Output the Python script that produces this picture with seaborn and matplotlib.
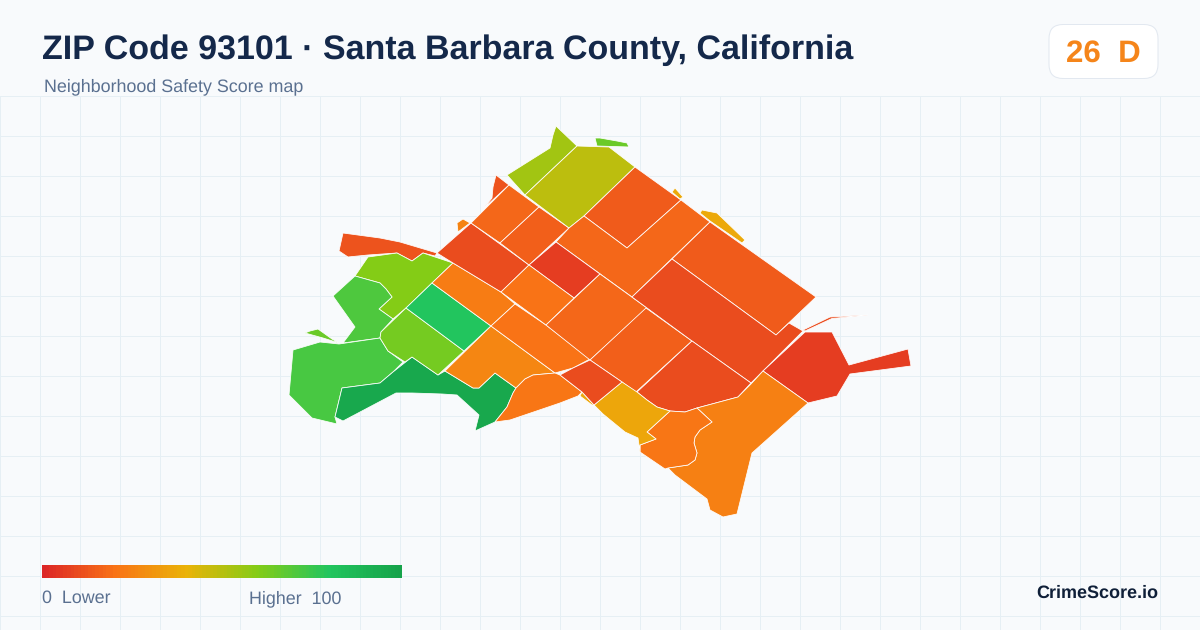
import numpy as np
import matplotlib
matplotlib.use("Agg")
import matplotlib.pyplot as plt
from matplotlib.patches import FancyBboxPatch
import seaborn as sns

TITLE = "ZIP Code 93101 · Santa Barbara County, California"
SUBTITLE = "Neighborhood Safety Score map"
BADGE_TEXT = "26  D"
BRAND = "CrimeScore.io"
LEGEND_LOW = "0  Lower"
LEGEND_HIGH = "Higher  100"
RAMP_COLORS = ["#dc2626", "#f97316", "#eab308", "#84cc16", "#22c55e", "#16a34a"]

# Tract outlines (map coordinates = image pixels)
west_strip = [(343,233),(339,251),(348,257),(368,255),(397,253),(412,261),(423,253),(435,256),(437,253),(400,242),(380,238)]
lime_north = [(368,257),(397,253),(412,261),(423,253),(435,257),(453,263),(432,283),(406,308),(393,319),(379,309),(392,297),(386,289),(380,283),(355,276)]
green_west = [(355,276),(380,283),(386,289),(392,297),(379,309),(393,319),(381,332),(380,338),(343,343),(355,327),(333,296)]
green_islet = [(305,333),(310,331),(318,329),(332,339),(339,343),(323,338)]
green_park = [(293,350),(320,342),(339,344),(380,338),(388,351),(403,362),(393,372),(380,383),(342,388),(335,417),(337,424),(312,418),(289,395)]
green_mesa = [(412,357),(438,375),(445,371),(473,388),(479,388),(495,373),(516,388),(513,393),(507,407),(495,422),(475,431),(479,415),(457,395),(442,394),(412,393),(396,393),(343,421),(335,417),(342,388),(380,383),(393,372)]
lime_mid = [(406,308),(464,351),(438,375),(412,357),(405,362),(388,351),(380,338),(381,332)]
green_bright = [(432,283),(491,326),(464,351),(406,308)]
orange_long = [(453,263),(501,292),(515,304),(491,326),(432,283)]
orange_shore = [(491,326),(555,373),(533,375),(525,379),(516,388),(495,373),(479,388),(473,388),(445,371)]
orange_mid = [(515,304),(546,325),(590,359),(573,368),(555,373),(491,326)]
orange_harbor = [(516,388),(525,379),(533,375),(555,373),(560,375),(582,392),(578,396),(560,403),(510,420),(495,422),(507,407),(513,393)]
red_left = [(471,223),(529,265),(501,292),(453,263),(437,253)]
orange_corner = [(457,223),(463,219),(470,223),(458,232)]
spike = [(496,175),(509,185),(484,208),(492,198),(493,187)]
block_nw = [(509,185),(539,207),(500,243),(471,223)]
block_n = [(539,207),(569,228),(529,265),(500,243)]
block_yellow_green = [(556,126),(577,146),(525,195),(507,175),(550,148),(553,135)]
block_olive = [(577,146),(609,147),(635,167),(584,216),(569,228),(525,195)]
green_sliver = [(595,138),(597,146),(629,147),(627,143),(617,141),(600,138)]
block_ne = [(635,167),(681,200),(627,248),(584,216)]
block_l = [(569,228),(584,216),(627,248),(681,200),(710,222),(632,297),(556,242)]
block_dark = [(556,242),(600,274),(574,298),(529,265)]
block_orange = [(529,265),(574,298),(546,325),(501,292)]
block_center = [(600,274),(647,308),(590,360),(546,325)]
block_lower = [(646,308),(692,341),(636,392),(622,382),(590,360)]
block_east = [(710,222),(816,297),(776,335),(672,259)]
block_long = [(632,297),(672,259),(776,335),(789,323),(803,331),(763,371),(751,383),(692,341)]
block_round = [(692,341),(751,383),(738,397),(697,408),(685,412),(670,411),(657,407),(647,400),(637,392)]
hexagon = [(805,332),(832,332),(849,365),(908,349),(911,366),(850,374),(837,396),(808,403),(763,371)]
thin_east = [(803,330),(830,317),(868,315),(832,318.5),(805,331)]
south_large = [(763,371),(808,403),(752,453),(737,514),(723,517),(710,510),(707,499),(675,475),(668,468),(688,465),(695,460),(697,453),(694,443),(695,437),(700,430),(712,422),(697,408),(738,397),(751,384)]
south_inner = [(670,411),(685,412),(697,408),(712,422),(700,430),(695,437),(694,443),(697,453),(695,460),(688,465),(668,468),(665,469),(640,452),(640,445),(656,439),(647,432)]
gold_block = [(622,382),(637,392),(647,400),(657,407),(670,411),(647,432),(656,439),(640,445),(640,452),(638,438),(625,432),(603,414),(594,405)]
gold_trace = [(580,396),(582,392),(594,405),(592,405)]
red_block = [(590,360),(622,382),(594,405),(582,392),(560,375),(573,368)]
gold_small = [(672,192),(675,188),(683,197),(680,199)]
gold_beach = [(702,210),(717,213),(745,240),(742,243),(710,221),(700,213)]

TRACTS = [west_strip, lime_north, green_west, green_islet, green_park, green_mesa, lime_mid,
          green_bright, orange_long, orange_shore, orange_mid, orange_harbor, red_left,
          orange_corner, spike, block_nw, block_n, block_yellow_green, block_olive, green_sliver,
          block_ne, block_l, block_dark, block_orange, block_center, block_lower, block_east,
          block_long, block_round, hexagon, thin_east, south_large, south_inner, gold_block,
          gold_trace, red_block, gold_small, gold_beach]
SCORES = [12, 60, 71, 65, 72, 97, 63,
          80, 23, 26, 20, 21, 10,
          25, 12, 17, 15, 54, 49, 65,
          14, 17, 6, 20, 17, 15, 14,
          10, 10, 6, 10, 24, 21, 36,
          36, 10, 37, 37]

sns.set_theme(style="white")
BG = "#f8fafc"
GRID = "#e6eff4"
plt.rcParams["font.family"] = ["Liberation Sans", "DejaVu Sans"]
plt.rcParams["text.hinting"] = "no_hinting"

cmap = sns.blend_palette(RAMP_COLORS, as_cmap=True)

fig = plt.figure(figsize=(12, 6.3), dpi=100, facecolor=BG)
ax = fig.add_axes([0, 0, 1, 1])
ax.set_xlim(0, 1200)
ax.set_ylim(630, 0)
ax.set_facecolor(BG)
ax.axis("off")

ax.vlines(np.arange(0.5, 1200, 40), 96, 630, color=GRID, lw=0.72, zorder=1, snap=False)
ax.hlines(np.arange(96.5, 630, 40), 0, 1200, color=GRID, lw=0.72, zorder=1, snap=False)

for outline, score in zip(TRACTS, SCORES):
    xs, ys = zip(*outline)
    ax.fill(xs, ys, facecolor=cmap(score / 100), edgecolor="white", lw=0.55, zorder=2, joinstyle="round")

ax.text(42, 59, TITLE, fontsize=24.5, fontweight="bold", color="#14284a", ha="left", va="baseline", zorder=5)
ax.text(44, 91, SUBTITLE, fontsize=12.9, color="#5a7090", ha="left", va="baseline", zorder=5)

badge = FancyBboxPatch((1049, 24.5), 109, 54, boxstyle="round,pad=0,rounding_size=14",
                       facecolor="white", edgecolor="#e2e8f0", lw=0.72, zorder=4)
ax.add_patch(badge)
ax.text(1103, 62, BADGE_TEXT, fontsize=22.5, fontweight="bold", color="#f5851a", ha="center", va="baseline", zorder=5)

ax.text(1158, 598, BRAND, fontsize=13, fontweight="bold", color="#0f1f38", ha="right", va="baseline", zorder=5)
ax.text(42, 603, LEGEND_LOW, fontsize=12.9, color="#5a7090", ha="left", va="baseline", zorder=5)
ax.text(249, 603, LEGEND_HIGH, fontsize=12.9, color="#5a7090", ha="left", va="baseline", zorder=5)

cax = fig.add_axes([42 / 1200, 1 - 578 / 630, 360 / 1200, 13 / 630])
sns.heatmap(np.arange(0, 101).reshape(1, -1), ax=cax, cmap=cmap, vmin=0, vmax=100, cbar=False,
            xticklabels=False, yticklabels=False, linewidths=0, rasterized=True)

fig.savefig("out.png", dpi=100, facecolor=BG)
